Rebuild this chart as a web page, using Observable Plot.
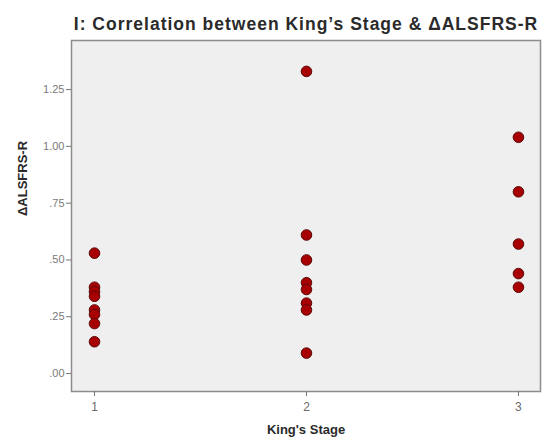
<!DOCTYPE html>
<html>
<head>
<meta charset="utf-8">
<script src="https://cdn.jsdelivr.net/npm/d3@7"></script>
<script src="https://cdn.jsdelivr.net/npm/@observablehq/plot@0.6"></script>
<style>
  html, body { margin: 0; padding: 0; background: #fff; }
  #chart svg { display: block; }
</style>
</head>
<body>
<div id="chart"></div>
<script>
// Data
const stage1 = [0.53, 0.38, 0.36, 0.34, 0.28, 0.26, 0.22, 0.14];
const stage2 = [1.33, 0.61, 0.50, 0.40, 0.37, 0.31, 0.28, 0.09];
const stage3 = [1.04, 0.80, 0.57, 0.44, 0.38];
const xTicks = [1, 2, 3];
const yTicks = [0, 0.25, 0.5, 0.75, 1.0, 1.25];
const titleText = "I: Correlation between King\u2019s Stage & \u0394ALSFRS-R";
const xLabel = "King's Stage";
const yLabel = "\u0394ALSFRS-R";

const data = [
  ...stage1.map(v => ({stage: 1, value: v})),
  ...stage2.map(v => ({stage: 2, value: v})),
  ...stage3.map(v => ({stage: 3, value: v}))
];

const font = "'Liberation Sans', Arial, sans-serif";

const chart = Plot.plot({
  width: 547,
  height: 445,
  marginTop: 40,
  marginBottom: 54,
  marginLeft: 71,
  marginRight: 7,
  style: {fontFamily: font, background: "#fff"},
  x: {domain: [0.8915, 3.104], ticks: xTicks},
  y: {domain: [-0.079, 1.466], ticks: yTicks},
  marks: [
    Plot.frame({fill: "#efefef", stroke: "#8c8c8c", strokeWidth: 1.5}),
    Plot.axisX({ticks: xTicks, tickSize: 5, tickPadding: 6, fontSize: 12, color: "#6a6a6a", stroke: "#777", label: null, tickFormat: d => String(d)}),
    Plot.axisY({ticks: yTicks, tickSize: 5, tickPadding: 2, fontSize: 11, color: "#7a7a7a", stroke: "#777", label: null,
      tickFormat: d => d.toFixed(2).replace(/^0/, "")}),
    Plot.dot(data, {x: "stage", y: "value", r: 5.3, fill: "#a80000", stroke: "#5a0a0a", strokeWidth: 1}),
    Plot.text([titleText], {frameAnchor: "top", dy: -23, fontSize: 17.5, fontWeight: "bold", fill: "#2a2a2a"}),
    Plot.text([xLabel], {frameAnchor: "bottom", dy: 42, fontSize: 13, fontWeight: "bold", fill: "#2a2a2a"}),
    Plot.text([yLabel], {frameAnchor: "left", dx: -49, rotate: -90, fontSize: 13, fontWeight: "bold", fill: "#2a2a2a"})
  ]
});
d3.select(chart).selectAll("text").filter(function() { return this.textContent === titleText; })
  .style("letter-spacing", "1px");
document.getElementById("chart").appendChild(chart);
</script>
</body>
</html>
